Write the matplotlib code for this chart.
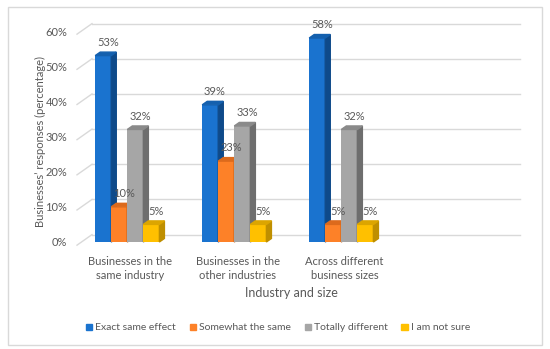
import matplotlib.pyplot as plt
from matplotlib.patches import Polygon, Rectangle, Patch

plt.rcParams['font.family'] = ['Lato', 'DejaVu Sans']

categories = ['Businesses in the\nsame industry', 'Businesses in the\nother industries',
              'Across different\nbusiness sizes']
series = ['Exact same effect', 'Somewhat the same', 'Totally different', 'I am not sure']
values = [
    [53, 39, 58],
    [10, 23, 5],
    [32, 33, 32],
    [5, 5, 5],
]
yticks = [0, 10, 20, 30, 40, 50, 60]

front = ['#1a73cf', '#fd8128', '#a6a6a6', '#ffc000']
side = ['#0e4a8a', '#c25a10', '#6e6e6e', '#bf8f00']
top = ['#1460ae', '#dc6a1c', '#8a8a8a', '#dca500']
txt = '#595959'
grid = '#d9d9d9'

fig = plt.figure(figsize=(5.5, 3.49), dpi=100)
fig.patches.append(Rectangle((8 / 550, 4 / 349), 534 / 550, 338 / 349, transform=fig.transFigure,
                             fill=False, edgecolor=grid, lw=1))

ax = fig.add_axes([77 / 550, 107 / 349, 428 / 550, 211 / 349])
ax.set_xlim(-0.5, 3.5)
ax.set_ylim(0, 60)
for s in ax.spines.values():
    s.set_visible(False)

# back wall grid + floor diagonals
dx, dy = 0.14, 2.1
for v in yticks:
    ax.plot([-0.5 + dx, 3.5 + dx], [v + dy, v + dy], color=grid, lw=1, clip_on=False, zorder=0)
    ax.plot([-0.5, -0.5 + dx], [v - 0.9, v + dy], color=grid, lw=1, clip_on=False, zorder=0)

# 3d-ish bars
w = 0.15
ddx, ddy = 0.047, 1.0
for j in range(len(series)):
    for i in range(len(categories)):
        h = values[j][i]
        x = i - 0.33 + j * w
        ax.bar(x, h, width=w, align='edge', color=front[j], zorder=2 + j * 3)
        ax.add_patch(Polygon([(x + w, 0), (x + w + ddx, ddy), (x + w + ddx, h + ddy), (x + w, h)],
                             closed=True, color=side[j], zorder=3 + j * 3, clip_on=False))
        ax.add_patch(Polygon([(x, h), (x + ddx, h + ddy), (x + w + ddx, h + ddy), (x + w, h)],
                             closed=True, color=top[j], zorder=4 + j * 3, clip_on=False))
        t = ax.annotate(f'{h}%', (x + w / 2 + ddx / 2, h + ddy), xytext=(1.5, 3), textcoords='offset points',
                        ha='center', va='bottom', fontsize=8, color=txt, annotation_clip=False)
        t.set_zorder(50)

ax.set_yticks(yticks)
ax.set_yticklabels([f'{v}%' for v in yticks])
ax.set_xticks(range(len(categories)))
ax.set_xticklabels(categories, linespacing=1.4)
ax.tick_params(axis='y', length=0, pad=7, labelsize=8, labelcolor=txt)
ax.tick_params(axis='x', length=0, pad=10, labelsize=8, labelcolor=txt)

fig.text(40 / 550, 1 - 141 / 349, 'Businesses\u2019 responses (percentage)', rotation=90,
         ha='center', va='center', fontsize=8, color=txt)
fig.text(291 / 550, 1 - 293 / 349, 'Industry and size', ha='center', va='center', fontsize=9, color=txt)

handles = [Patch(color=c) for c in front]
fig.legend(handles, series, loc='center', bbox_to_anchor=(278 / 550, 1 - 328 / 349), ncol=4,
           frameon=False, fontsize=7.5, labelcolor=txt, handlelength=0.6, handleheight=0.6,
           handletextpad=0.3, columnspacing=1.3)

fig.savefig('out.png', dpi=100)
